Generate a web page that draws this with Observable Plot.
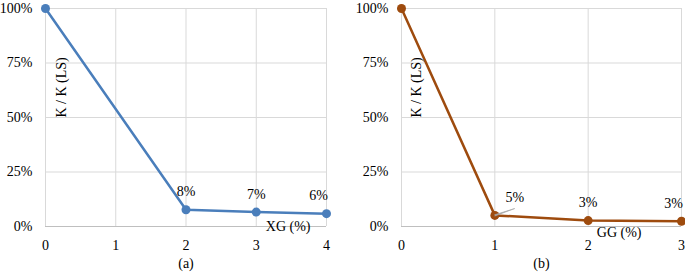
<!DOCTYPE html>
<html>
<head>
<meta charset="utf-8">
<script src="https://cdn.jsdelivr.net/npm/d3@7"></script>
<script src="https://cdn.jsdelivr.net/npm/@observablehq/plot@0.6"></script>
<style>
  body { margin: 0; background: #fff; font-family: "Liberation Serif", serif; }
  #wrap { position: relative; width: 685px; height: 272px; overflow: hidden; }
  .panel { position: absolute; top: 0; }
  .panel svg, .panel svg text { font-family: "Liberation Serif", serif !important; }
</style>
</head>
<body>
<div id="wrap">
  <div class="panel" id="pa" style="left:0px"></div>
  <div class="panel" id="pb" style="left:345px"></div>
</div>
<script>
// Panel (a): XG
const xgX = [0, 2, 3, 4];
const xgY = [100, 7.7, 6.6, 5.9];
const xgLabels = ["", "8%", "7%", "6%"];
const xgTicks = [0, 1, 2, 3, 4];
// Panel (b): GG
const ggX = [0, 1, 2, 3];
const ggY = [100, 5.1, 2.7, 2.4];
const ggLabels = ["", "5%", "3%", "3%"];
const ggTicks = [0, 1, 2, 3];
const yTicks = [0, 25, 50, 75, 100];
const yTitle = "K / K (LS)";
const titles = ["XG (%)", "GG (%)"];
const captions = ["(a)", "(b)"];
const colors = ["#4a7ebb", "#9e4b0e"];

const font = "Liberation Serif, serif";

function panel({xs, ys, labels, ticks, xTitle, caption, color, marginLeft, marginRight, leader}) {
  const data = xs.map((x, i) => ({x, y: ys[i], label: labels[i], i}));
  const last = data.length - 1;
  const tx = {fontSize: 14, fill: "#000", fontFamily: font};
  const marks = [
    Plot.ruleX(ticks, {stroke: "#d9d9d9", strokeWidth: 1}),
    Plot.ruleY(yTicks.filter(d => d > 0), {stroke: "#d9d9d9", strokeWidth: 1}),
    Plot.ruleY([0], {stroke: "#bfbfbf", strokeWidth: 1}),
    Plot.line(data, {x: "x", y: "y", stroke: color, strokeWidth: 2.5}),
    Plot.dot(data, {x: "x", y: "y", fill: color, r: 4.5}),
    Plot.text(data.filter(d => d.label && d.i < last && !(leader && d.i === 1)), {x: "x", y: "y", text: "label", dy: -18, ...tx}),
    Plot.text(data.filter(d => d.i === last), {x: "x", y: "y", text: "label", dy: -18, dx: -8, ...tx}),
    Plot.text([xTitle], {frameAnchor: "bottom-right", text: d => d, dx: leader ? -40 : -16, dy: leader ? 10 : 4, textAnchor: "end", ...tx}),
    Plot.text([yTitle], {frameAnchor: "left", text: d => d, rotate: -90, dx: leader ? 15 : 16, ...tx}),
    Plot.text([caption], {frameAnchor: "bottom", text: d => d, dy: 41, ...tx})
  ];
  if (leader) {
    const p = data.filter(d => d.i === 1);
    marks.push(Plot.vector(p, {x: "x", y: "y", length: 21, rotate: 71, anchor: "start", shape: "spike", r: 0.6, stroke: "#a6a6a6", fill: "#a6a6a6", strokeWidth: 0.6}));
    marks.push(Plot.text(p, {x: "x", y: "y", text: "label", dx: 20, dy: -18, ...tx}));
  }
  return Plot.plot({
    width: 340,
    height: 272,
    marginLeft, marginRight,
    marginTop: 8,
    marginBottom: 46,
    style: {fontFamily: font, fontSize: "14px", color: "#000", background: "transparent", overflow: "visible"},
    x: {domain: [ticks[0], ticks[ticks.length - 1]], ticks, tickSize: 0, tickPadding: 14, label: null, tickFormat: d => String(d)},
    y: {domain: [0, 100], ticks: yTicks, tickSize: 0, tickPadding: 13, label: null, tickFormat: d => d + "%"},
    marks
  });
}

document.getElementById("pa").appendChild(panel({
  xs: xgX, ys: xgY, labels: xgLabels, ticks: xgTicks, xTitle: titles[0], caption: captions[0],
  color: colors[0], marginLeft: 45, marginRight: 14, leader: false
}));
document.getElementById("pb").appendChild(panel({
  xs: ggX, ys: ggY, labels: ggLabels, ticks: ggTicks, xTitle: titles[1], caption: captions[1],
  color: colors[1], marginLeft: 56, marginRight: 4, leader: true
}));
</script>
</body>
</html>
